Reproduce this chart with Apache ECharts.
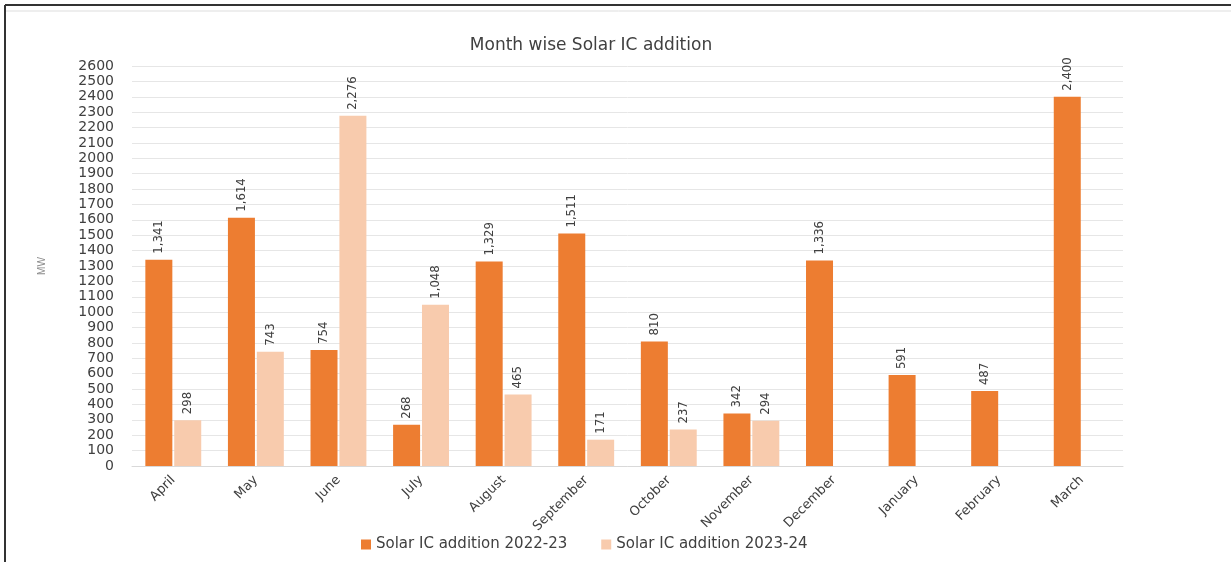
<!DOCTYPE html>
<html>
<head>
<meta charset="utf-8">
<script src="https://cdn.jsdelivr.net/npm/echarts@6/dist/echarts.min.js"></script>
<style>
  html, body { margin: 0; padding: 0; background: #fff; }
  #chart { width: 1231px; height: 562px; }
</style>
</head>
<body>
<div id="chart"></div>
<script>
var months = ['April', 'May', 'June', 'July', 'August', 'September', 'October', 'November', 'December', 'January', 'February', 'March'];
var addition2223 = [1341, 1614, 754, 268, 1329, 1511, 810, 342, 1336, 591, 487, 2400];
var addition2324 = [298, 743, 2276, 1048, 465, 171, 237, 294, null, null, null, null];

var chart = echarts.init(document.getElementById('chart'));

var labelOpt = {
  show: true,
  position: 'top',
  rotate: 90,
  align: 'left',
  verticalAlign: 'middle',
  distance: 6,
  color: '#404040',
  fontSize: 13,
  fontFamily: 'Liberation Sans Narrow, DejaVu Sans Condensed, sans-serif',
  formatter: function (p) { return p.value == null ? '' : p.value.toLocaleString('en-US'); }
};

var option = {
  backgroundColor: '#fff',
  animation: false,
  title: {
    text: 'Month wise Solar IC addition',
    left: 586,
    textAlign: 'center',
    top: 32,
    textStyle: { fontSize: 17, fontWeight: 'normal', color: '#404040', fontFamily: 'DejaVu Sans, sans-serif' }
  },
  graphic: [
    { type: 'line', shape: { x1: 5, y1: 5, x2: 1231, y2: 5 }, style: { stroke: '#333', lineWidth: 2 } },
    { type: 'line', shape: { x1: 5, y1: 5, x2: 5, y2: 562 }, style: { stroke: '#333', lineWidth: 2 } },
    { type: 'line', shape: { x1: 6, y1: 11, x2: 1231, y2: 11 }, style: { stroke: '#ddd', lineWidth: 1 } }
  ],
  legend: {
    bottom: 5,
    left: 356,
    itemWidth: 10,
    itemHeight: 10,
    itemGap: 34,
    icon: 'rect',
    textStyle: { fontSize: 15, color: '#404040', fontFamily: 'DejaVu Sans, sans-serif' },
    data: ['Solar IC addition 2022-23', 'Solar IC addition 2023-24']
  },
  grid: { left: 132, right: 108, top: 66, bottom: 96 },
  xAxis: {
    type: 'category',
    data: months,
    axisTick: { show: false },
    axisLine: { lineStyle: { color: '#d9d9d9' } },
    axisLabel: {
      rotate: 45,
      margin: 12,
      color: '#404040',
      fontSize: 13,
      fontFamily: 'DejaVu Sans, sans-serif',
      interval: 0
    }
  },
  yAxis: {
    type: 'value',
    min: 0,
    max: 2600,
    interval: 100,
    name: 'MW',
    nameLocation: 'middle',
    nameRotate: 90,
    nameGap: 85,
    nameTextStyle: { color: '#8c8c8c', fontSize: 10, fontFamily: 'Liberation Sans Narrow, sans-serif' },
    axisLine: { show: false },
    axisTick: { show: false },
    splitLine: { lineStyle: { color: '#e6e6e6' } },
    axisLabel: {
      color: '#404040',
      fontSize: 14,
      fontFamily: 'DejaVu Sans, sans-serif',
      margin: 18,
      formatter: function (v) { return String(v); }
    }
  },
  series: [
    {
      name: 'Solar IC addition 2022-23',
      type: 'bar',
      data: addition2223,
      barWidth: 27,
      barGap: '7%',
      itemStyle: { color: '#ED7D31' },
      label: labelOpt
    },
    {
      name: 'Solar IC addition 2023-24',
      type: 'bar',
      data: addition2324,
      barWidth: 27,
      itemStyle: { color: '#F8CBAD' },
      label: labelOpt
    }
  ]
};

chart.setOption(option);
</script>
</body>
</html>
